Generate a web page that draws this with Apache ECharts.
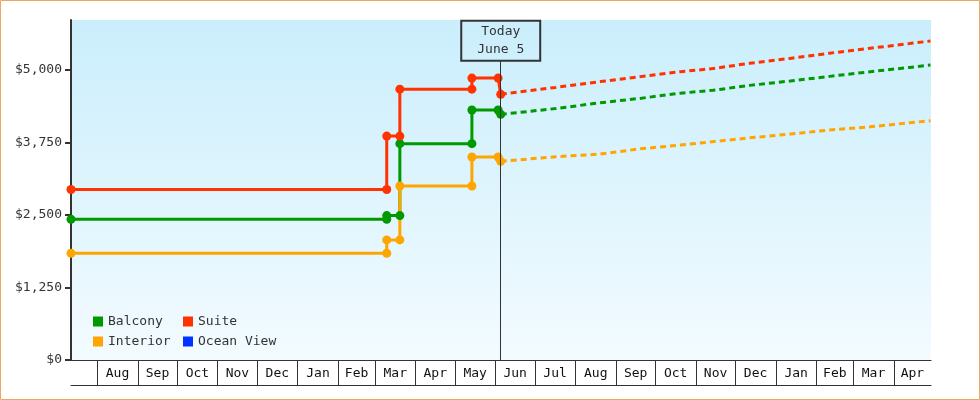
<!DOCTYPE html>
<html>
<head>
<meta charset="utf-8">
<script src="https://cdn.jsdelivr.net/npm/echarts@6/dist/echarts.min.js"></script>
<style>
  html, body { margin: 0; padding: 0; background: #fff; }
  #charts { width: 980px; height: 400px; }
</style>
</head>
<body>
<div id="charts"></div>
<script>
// price history (solid) and forecast (dashed)
var historyDates = ['2013-07-12', '2014-03-10', '2014-03-10', '2014-03-20', '2014-03-20',
    '2014-05-14', '2014-05-14', '2014-06-03', '2014-06-05'];
var balconyHistory = [2425, 2425, 2490, 2490, 3730, 3730, 4310, 4310, 4235];
var interiorHistory = [1840, 1840, 2070, 2070, 3000, 3000, 3500, 3500, 3425];
var suiteHistory = [2940, 2940, 3860, 3860, 4670, 4670, 4860, 4860, 4580];

var forecastDates = ['2014-06-05', '2014-07-17', '2014-08-20', '2014-09-19', '2014-10-20', '2014-11-14',
    '2014-12-12', '2015-01-12', '2015-02-11', '2015-03-14', '2015-04-13', '2015-04-29'];
var balconyForecast = [4235, 4335, 4435, 4510, 4600, 4650, 4735, 4810, 4890, 4970, 5045, 5085];
var interiorForecast = [3425, 3505, 3550, 3640, 3705, 3765, 3830, 3895, 3965, 4020, 4090, 4125];
var suiteForecast = [4580, 4700, 4800, 4885, 4970, 5025, 5115, 5200, 5290, 5375, 5455, 5500];

var monthStarts = ['2013-08-01', '2013-09-01', '2013-10-01', '2013-11-01', '2013-12-01', '2014-01-01',
    '2014-02-01', '2014-03-01', '2014-04-01', '2014-05-01', '2014-06-01', '2014-07-01', '2014-08-01',
    '2014-09-01', '2014-10-01', '2014-11-01', '2014-12-01', '2015-01-01', '2015-02-01', '2015-03-01',
    '2015-04-01'];
var monthLabels = ['Aug', 'Sep', 'Oct', 'Nov', 'Dec', 'Jan', 'Feb', 'Mar', 'Apr', 'May', 'Jun',
    'Jul', 'Aug', 'Sep', 'Oct', 'Nov', 'Dec', 'Jan', 'Feb', 'Mar', 'Apr'];
var yTicks = [0, 1250, 2500, 3750, 5000];

var xMin = '2013-07-12';
var xMax = '2015-04-29 10:00';
var today = '2014-06-05';
var todayTop = 5160;
var yMax = 5862;

var font = 'DejaVu Sans Mono';

function ts(d) {
    return +echarts.time.parse(d);
}
function pairs(dates, vals) {
    var list = [];
    for (var i = 0; i < vals.length; i++) {
        list.push([ts(dates[i]), vals[i]]);
    }
    return list;
}

// label in the middle of every month box
var tickTimes = monthStarts.map(ts);
var endTime = ts(xMax);
var labelTimes = [];
for (var i = 0; i < tickTimes.length; i++) {
    var next = i + 1 < tickTimes.length ? tickTimes[i + 1] : endTime;
    labelTimes.push((tickTimes[i] + next) / 2);
}

function histSeries(name, color, data) {
    return {
        name: name,
        type: 'line',
        data: data,
        color: color,
        symbol: 'circle',
        symbolSize: 9,
        clip: false,
        lineStyle: { width: 3, color: color },
        itemStyle: { color: color },
        z: 3
    };
}
function foreSeries(name, color, data) {
    return {
        name: name,
        type: 'line',
        data: data,
        color: color,
        symbol: 'none',
        showSymbol: false,
        lineStyle: { width: 3, color: color, type: [6, 4] },
        z: 2
    };
}

var myChart = echarts.init(document.getElementById('charts'));

var balcony = histSeries('Balcony', '#009900', pairs(historyDates, balconyHistory));
balcony.markLine = {
    silent: true,
    symbol: ['none', 'none'],
    lineStyle: { color: '#333', width: 1, type: 'solid' },
    label: {
        show: true,
        position: 'end',
        distance: 0,
        formatter: 'Today\nJune 5',
        color: '#333',
        fontFamily: font,
        fontSize: 13,
        lineHeight: 18,
        padding: [2, 16, 2, 16],
        borderColor: '#333',
        borderWidth: 1,
        backgroundColor: 'transparent'
    },
    data: [[{ coord: [ts(today), 0] }, { coord: [ts(today), todayTop] }]]
};

option = {
    animation: false,
    textStyle: { fontFamily: font },
    graphic: [{
        type: 'rect',
        silent: true,
        shape: { x: 0.5, y: 0.5, width: 979, height: 399 },
        style: { fill: null, stroke: '#e8a862', lineWidth: 1 }
    }],
    grid: {
        left: 71, right: 49, top: 20, bottom: 40,
        show: true,
        borderWidth: 0,
        backgroundColor: new echarts.graphic.LinearGradient(0, 0, 0, 1, [
            { offset: 0, color: '#caeefc' },
            { offset: 1, color: '#f3fbff' }
        ])
    },
    legend: [{
        orient: 'vertical',
        left: 93, top: 315,
        padding: 0,
        icon: 'rect',
        itemWidth: 10, itemHeight: 10, itemGap: 7,
        selectedMode: false,
        itemStyle: { borderWidth: 0 },
        textStyle: { color: '#333', fontFamily: font, fontSize: 13, lineHeight: 13 },
        data: ['Balcony', 'Interior']
    }, {
        orient: 'vertical',
        left: 183, top: 315,
        padding: 0,
        icon: 'rect',
        itemWidth: 10, itemHeight: 10, itemGap: 7,
        selectedMode: false,
        itemStyle: { borderWidth: 0 },
        textStyle: { color: '#333', fontFamily: font, fontSize: 13, lineHeight: 13 },
        data: ['Suite', 'Ocean View']
    }],
    xAxis: [{
        type: 'value',
        min: ts(xMin),
        max: endTime,
        splitLine: { show: false },
        axisLine: { show: true, lineStyle: { color: '#333', width: 1 } },
        axisTick: {
            show: true,
            customValues: tickTimes,
            length: 25,
            lineStyle: { color: '#333', width: 1 }
        },
        axisLabel: {
            customValues: labelTimes,
            margin: 7,
            color: '#111',
            fontFamily: font,
            fontSize: 13,
            hideOverlap: false,
            formatter: function (value) {
                var k = labelTimes.indexOf(value);
                return k >= 0 ? monthLabels[k] : '';
            }
        }
    }, {
        type: 'value',
        position: 'bottom',
        offset: 25,
        min: ts(xMin),
        max: endTime,
        splitLine: { show: false },
        axisLine: { show: true, lineStyle: { color: '#333', width: 1 } },
        axisTick: { show: false },
        axisLabel: { show: false }
    }],
    yAxis: {
        type: 'value',
        min: 0,
        max: yMax,
        splitLine: { show: false },
        axisLine: { show: true, lineStyle: { color: '#333', width: 2 } },
        axisTick: {
            show: true,
            customValues: yTicks,
            length: 6,
            lineStyle: { color: '#333', width: 2 }
        },
        axisLabel: {
            customValues: yTicks,
            margin: 9,
            color: '#333',
            fontFamily: font,
            fontSize: 13,
            formatter: function (v) {
                return '$' + v.toLocaleString('en-US');
            }
        }
    },
    series: [
        foreSeries('Balcony', '#009900', pairs(forecastDates, balconyForecast)),
        foreSeries('Interior', '#ffa500', pairs(forecastDates, interiorForecast)),
        foreSeries('Suite', '#ff3300', pairs(forecastDates, suiteForecast)),
        balcony,
        histSeries('Interior', '#ffa500', pairs(historyDates, interiorHistory)),
        histSeries('Suite', '#ff3300', pairs(historyDates, suiteHistory)),
        { name: 'Ocean View', type: 'line', color: '#0033ff', itemStyle: { color: '#0033ff' }, data: [] }
    ]
};

myChart.setOption(option);
</script>
</body>
</html>
